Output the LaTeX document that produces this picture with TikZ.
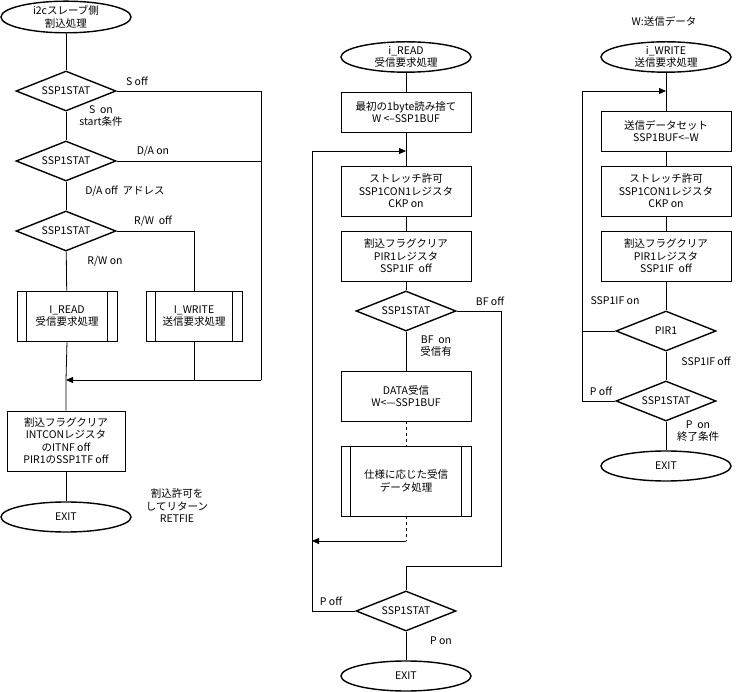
\documentclass[tikz,border=0pt]{standalone}
\usepackage{fontspec}
\setmainfont{Noto Sans CJK JP}
\usetikzlibrary{calc,shapes.geometric,arrows.meta}

\tikzset{
	term/.style={draw, ellipse, line width=1.4pt, minimum width=130, minimum height=30, inner sep=0pt, align=center},
	proc/.style={draw, rectangle, line width=0.8pt, minimum width=130, inner sep=0pt, align=center},
	sub/.style={proc, minimum width=100, minimum height=50},
	cond/.style={draw, diamond, line width=1.4pt, minimum width=100, minimum height=40, inner sep=0pt},
	txt/.style={inner sep=1pt, align=center},
	flow/.style={line width=0.8pt},
	into/.style={flow, -{Triangle[length=7pt,width=6pt]}},
}

\newcommand{\subbars}[1]{%
	\draw[flow] ($(#1.north west)+(10,0)$) -- ($(#1.south west)+(10,0)$);
	\draw[flow] ($(#1.north east)+(-10,0)$) -- ($(#1.south east)+(-10,0)$);
}

\begin{document}
\begin{tikzpicture}[x=1pt, y=-1pt, font=\fontsize{10.5}{12.5}\selectfont]

	% ---- page

	\useasboundingbox (0,0) rectangle (742,692);

	% ---- left column

	\node[term] (st) at (66,17) {i2cスレーブ側\\割込処理};
	\node[cond] (d1) at (66,91) {\makebox[0pt]{SSP1STAT}};
	\node[cond] (d2) at (66,161) {\makebox[0pt]{SSP1STAT}};
	\node[cond] (d3) at (66,231) {\makebox[0pt]{SSP1STAT}};
	\node[sub] (rd) at (67,316) {I\_READ\\受信要求処理};
	\node[sub, minimum width=96] (wr) at (194,316) {I\_WRITE\\送信要求処理};
	\node[proc, minimum width=118, minimum height=60] (clr) at (66,441)
		{割込フラグクリア\\INTCONレジスタ\\のITNF off\\PIR1のSSP1TF off};
	\node[term] (ex) at (66,517) {EXIT};

	\subbars{rd}
	\subbars{wr}

	\coordinate (mg) at (66,380);

	\draw[flow] (st) -- (d1);
	\draw[flow] (d1) -- (d2);
	\draw[flow] (d2) -- (d3);
	\draw[flow] (d3) -- (rd);
	\draw[flow] (d3.east) -| (wr.north);
	\draw[flow] (d1.east) -- (261,91) -- (261,380);
	\draw[flow] (d2.east) -- (261,161);
	\draw[flow] (rd.south) -- (mg) -- (clr);
	\draw[flow] (wr.south) -- (194,380);
	\draw[into] (261,380) -- (mg);
	\draw[flow] (clr) -- (ex);

	\node[txt] (l1) at (137,81) {S off};
	\node[txt] (l2) at (101,116) {S\ \ on\\start条件};
	\node[txt] (l3) at (153,151) {D/A on};
	\node[txt] (l4) at (125,191) {D/A off\ \ アドレス};
	\node[txt] (l5) at (153,221) {R/W\ \ off};
	\node[txt] (l6) at (105,261) {R/W on};
	\node[txt] (l7) at (177,506) {割込許可を\\してリターン\\RETFIE};

	% ---- middle column

	\node[term] (rs) at (406,57) {i\_READ\\受信要求処理};
	\node[proc, minimum height=40] (r1) at (406,112) {最初の1byte読み捨て\\W <--SSP1BUF};
	\node[proc, minimum height=50] (r2) at (406,191) {ストレッチ許可\\SSP1CON1レジスタ\\CKP on};
	\node[proc, minimum height=50] (r3) at (406,256) {割込フラグクリア\\PIR1レジスタ\\SSP1IF\ \ off};
	\node[cond] (r4) at (406,311) {\makebox[0pt]{SSP1STAT}};
	\node[proc, minimum height=50] (r5) at (406,396) {DATA受信\\W<---SSP1BUF};
	\node[sub, minimum width=130, minimum height=70] (r6) at (406,481) {仕様に応じた受信\\データ処理};
	\node[cond] (r7) at (406,611) {\makebox[0pt]{SSP1STAT}};
	\node[term] (rx) at (406,676) {EXIT};

	\subbars{r6}

	\coordinate (rl) at (406,151);
	\coordinate (rb) at (406,541);
	\coordinate (rj) at (406,566);

	\draw[flow] (rs) -- (r1);
	\draw[flow] (r1) -- (r2);
	\draw[flow] (r2) -- (r3);
	\draw[flow] (r3) -- (r4);
	\draw[flow] (r4) -- (r5);
	\draw[flow, dashed] (r5) -- (r6);
	\draw[flow, dashed] (r6) -- (rb);
	\draw[into] (rb) -- (312,541);
	\draw[flow] (r4.east) -- (501,311) -- (501,566) -- (rj) -- (r7);
	\draw[into] (r7.west) -- (312,611) -- (312,151) -- (rl);
	\draw[flow] (r7) -- (rx);

	\node[txt] (m1) at (490,301) {BF off};
	\node[txt] (m2) at (436,346) {BF\ \ on\\受信有};
	\node[txt] (m3) at (331,601) {P off};
	\node[txt] (m4) at (441,641) {P on};

	% ---- right column

	\node[txt] (wt) at (664,21) {W:送信データ};
	\node[term] (ws) at (666,57) {i\_WRITE\\送信要求処理};
	\node[proc, minimum height=40] (w1) at (666,131) {送信データセット\\SSP1BUF<--W};
	\node[proc, minimum height=50] (w2) at (666,191) {ストレッチ許可\\SSP1CON1レジスタ\\CKP on};
	\node[proc, minimum height=50] (w3) at (666,256) {割込フラグクリア\\PIR1レジスタ\\SSP1IF\ \ off};
	\node[cond] (w4) at (666,331) {\makebox[0pt]{PIR1}};
	\node[cond] (w5) at (666,401) {\makebox[0pt]{SSP1STAT}};
	\node[term] (wx) at (666,466) {EXIT};

	\coordinate (wl) at (666,91);

	\draw[flow] (ws) -- (w1);
	\draw[flow] (w1) -- (w2);
	\draw[flow] (w2) -- (w3);
	\draw[flow] (w3) -- (w4);
	\draw[flow] (w4) -- (w5);
	\draw[flow] (w4.west) -- (582,331);
	\draw[into] (w5.west) -- (582,401) -- (582,91) -- (wl);
	\draw[flow] (w5) -- (wx);

	\node[txt] (n1) at (615,301) {SSP1IF on};
	\node[txt] (n2) at (706,361) {SSP1IF off};
	\node[txt] (n3) at (601,391) {P off};
	\node[txt] (n4) at (698,431) {P\ \ on\\終了条件};

\end{tikzpicture}
\end{document}
